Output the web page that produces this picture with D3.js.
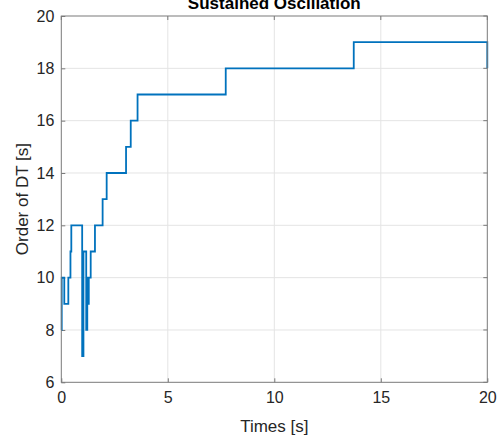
<!DOCTYPE html>
<html>
<head>
<meta charset="utf-8">
<script src="https://cdn.jsdelivr.net/npm/d3@7"></script>
<style>
  body { margin: 0; background: #fff; }
  svg { display: block; font-family: "Liberation Sans", Arial, sans-serif; }
</style>
</head>
<body>
<svg id="chart" width="499" height="437"></svg>
<script>
// step data
var times  = [0, 0.02, 0.14, 0.33, 0.43, 0.47, 0.98, 1.04, 1.17, 1.22, 1.26, 1.29, 1.38, 1.58, 1.94, 2.13, 3.04, 3.26, 3.58, 7.72, 13.73, 20];
var orders = [8, 10, 9, 10, 11, 12, 7, 11, 8, 10, 9, 10, 11, 12, 13, 14, 15, 16, 17, 18, 19, 18];
var xTicks = [0, 5, 10, 15, 20];
var yTicks = [6, 8, 10, 12, 14, 16, 18, 20];

function draw() {
    var data = times.map(function (t, i) { return {t: t, v: orders[i]}; });

    var svg = d3.select("#chart");
    var pl = 61.3, pr = 487.3, pt = 16, pb = 382.3;

    var x = d3.scaleLinear().domain([0, 20]).range([pl, pr]);
    var y = d3.scaleLinear().domain([6, 20]).range([pb, pt]);

    // grid
    svg.append("g").selectAll("line").data(xTicks.slice(1, -1)).enter().append("line")
        .attr("x1", function (d) { return x(d); }).attr("x2", function (d) { return x(d); })
        .attr("y1", pt).attr("y2", pb)
        .attr("stroke", "#e4e4e4").attr("stroke-width", 1);
    svg.append("g").selectAll("line").data(yTicks.slice(1, -1)).enter().append("line")
        .attr("x1", pl).attr("x2", pr)
        .attr("y1", function (d) { return y(d); }).attr("y2", function (d) { return y(d); })
        .attr("stroke", "#e4e4e4").attr("stroke-width", 1);

    // axes with inward ticks
    var xAxis = svg.append("g").attr("transform", "translate(0," + pb + ")")
        .call(d3.axisBottom(x).tickValues(xTicks).tickSize(-4).tickPadding(9));
    var yAxis = svg.append("g").attr("transform", "translate(" + pl + ",0)")
        .call(d3.axisLeft(y).tickValues(yTicks).tickSize(-4).tickPadding(7));
    [xAxis, yAxis].forEach(function (g) {
        g.select(".domain").remove();
        g.selectAll(".tick line").attr("stroke", "#7a7a7a");
        g.selectAll("text").attr("fill", "#262626").style("font-size", "16px")
            .style("font-family", "Liberation Sans, Arial, sans-serif");
    });

    // top/right ticks
    svg.append("g").selectAll("line").data(xTicks).enter().append("line")
        .attr("x1", function (d) { return x(d); }).attr("x2", function (d) { return x(d); })
        .attr("y1", pt).attr("y2", pt + 4).attr("stroke", "#7a7a7a");
    svg.append("g").selectAll("line").data(yTicks).enter().append("line")
        .attr("x1", pr).attr("x2", pr - 4)
        .attr("y1", function (d) { return y(d); }).attr("y2", function (d) { return y(d); })
        .attr("stroke", "#7a7a7a");

    // the step line
    var line = d3.line()
        .x(function (d) { return x(d.t); })
        .y(function (d) { return y(d.v); })
        .curve(d3.curveStepAfter);
    svg.append("path").datum(data)
        .attr("d", line)
        .attr("fill", "none")
        .attr("stroke", "#0072BD")
        .attr("stroke-width", 1.8);

    // box
    svg.append("rect")
        .attr("x", pl).attr("y", pt)
        .attr("width", pr - pl).attr("height", pb - pt)
        .attr("fill", "none").attr("stroke", "#7a7a7a").attr("stroke-width", 1);

    // labels (title is clipped by the top edge, as in the original)
    svg.append("text").attr("x", (pl + pr) / 2).attr("y", 9)
        .attr("text-anchor", "middle").attr("font-weight", "bold")
        .style("font-size", "17px").attr("fill", "#000")
        .text("Sustained Oscillation");
    svg.append("text").attr("x", (pl + pr) / 2).attr("y", 432)
        .attr("text-anchor", "middle").style("font-size", "17px").attr("fill", "#262626")
        .text("Times [s]");
    svg.append("text")
        .attr("transform", "translate(28," + ((pt + pb) / 2) + ") rotate(-90)")
        .attr("text-anchor", "middle").style("font-size", "17px").attr("fill", "#262626")
        .text("Order of DT [s]");
}

draw();
</script>
</body>
</html>
